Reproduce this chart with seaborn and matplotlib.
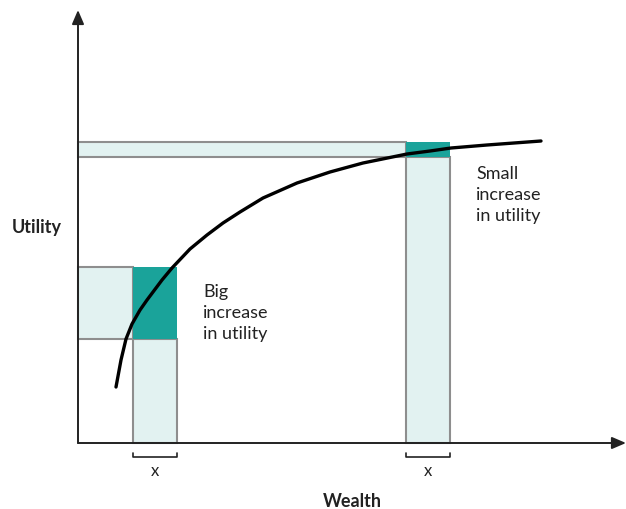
import matplotlib
matplotlib.use("Agg")
import matplotlib.pyplot as plt
import seaborn as sns
import pandas as pd

# utility curve (wealth, utility)
curve_wealth = [38, 43, 48, 54, 62, 69, 75, 84, 94, 112, 129, 145, 162, 185, 219, 252, 285, 329, 352, 373, 409, 463]
curve_utility = [56, 83, 104, 119, 133, 143, 151, 163, 175, 194, 208, 220, 231, 245, 260, 271, 280, 289, 292, 295, 298, 302]

# the two equal wealth gains
gain_start = [55, 328]
gain_x = 44
utility_before = [104, 286]
utility_after = [176, 301]

labels = ["Big\nincrease\nin utility", "Small\nincrease\nin utility"]
label_top = [160, 278]

light = "#e2f2f1"
dark = "#1aa39a"
edge = "#8e8e8e"
ink = "#222222"

sns.set_theme(style="white")
plt.rcParams["font.family"] = ["Lato", "DejaVu Sans"]

fig = plt.figure(figsize=(6.26, 5.10), dpi=100)
ax = fig.add_axes([0, 0, 1, 1])
ax.set_xlim(-78, 548)
ax.set_ylim(-66, 444)
ax.axis("off")

gain_end = [s + gain_x for s in gain_start]
gain_size = [a - b for a, b in zip(utility_after, utility_before)]

# light bars: wealth column and utility row
ax.bar(gain_start, utility_before, width=gain_x, align="edge",
       color=light, edgecolor=edge, linewidth=1.5, zorder=2)
ax.barh(utility_before, gain_start, height=gain_size, left=0, align="edge",
        color=light, edgecolor=edge, linewidth=1.5, zorder=2)
# dark squares: the utility gain
ax.bar(gain_start, gain_size, width=gain_x, bottom=utility_before, align="edge",
       color=dark, linewidth=0, zorder=3)

# curve
df = pd.DataFrame({"wealth": curve_wealth, "utility": curve_utility})
sns.lineplot(data=df, x="wealth", y="utility", color="black", linewidth=2.4,
             sort=False, ax=ax, zorder=4, solid_joinstyle="round")

# axes with arrows
arrow = dict(arrowstyle="-|>,head_length=0.7,head_width=0.3", color=ink,
             linewidth=1.4, mutation_scale=12, shrinkA=0, shrinkB=0)
ax.annotate("", xy=(0, 433), xytext=(0, 0), arrowprops=arrow, zorder=5)
ax.annotate("", xy=(548, 0), xytext=(0, 0), arrowprops=arrow, zorder=5)

# brackets marking the equal gains
for s, e in zip(gain_start, gain_end):
    ax.plot([s, s, e, e], [-10, -14, -14, -10], color=ink, linewidth=1.2)
    ax.text((s + e) / 2, -27, "x", ha="center", va="center", fontsize=12, color=ink)

# annotations
for e, top, lab in zip(gain_end, label_top, labels):
    ax.text(e + 26, top, lab, ha="left", va="top",
            fontsize=13, linespacing=1.4, color=ink)

ax.text(-41, 216, "Utility", ha="center", va="center", fontsize=13,
        fontweight="bold", color=ink)
ax.text(274, -58, "Wealth", ha="center", va="center", fontsize=13,
        fontweight="bold", color=ink)

fig.savefig("out.png", dpi=100)
